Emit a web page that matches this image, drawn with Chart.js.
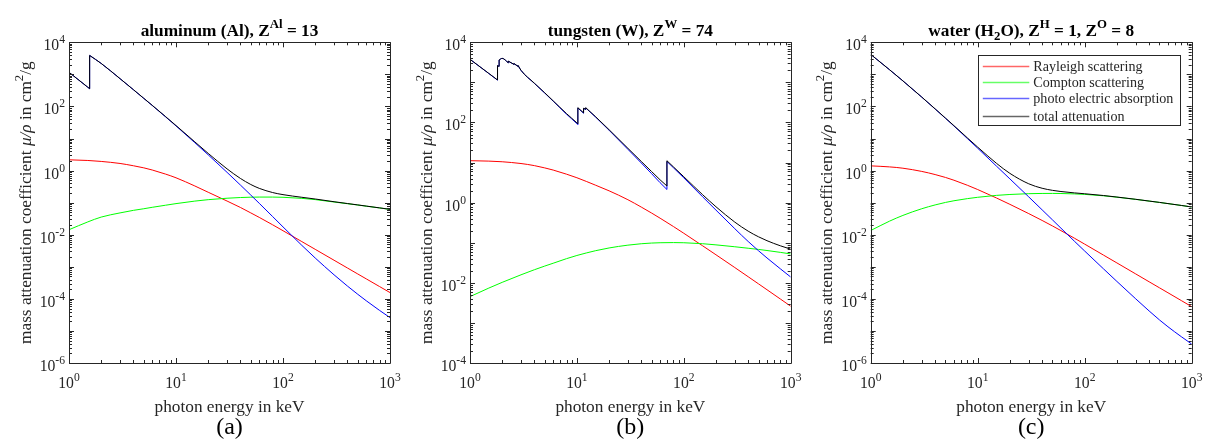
<!DOCTYPE html>
<html><head><meta charset="utf-8">
<script src="https://cdn.jsdelivr.net/npm/chart.js@4.4.0/dist/chart.umd.min.js"></script>
<style>
html,body{margin:0;padding:0;background:#fff;width:1208px;height:441px;overflow:hidden}
canvas{position:absolute;top:0}
</style></head><body>
<canvas id="ca" width="420" height="441" style="left:0px"></canvas>
<canvas id="cb" width="420" height="441" style="left:400px"></canvas>
<canvas id="cc" width="408" height="441" style="left:800px"></canvas>
<script>
// ---------- data (photon energy in keV, mass attenuation in cm^2/g) ----------
const E = [1,1.5,2,3,4,5,6,8,10,15,20,30,40,50,60,80,100,150,200,300,400,500,600,800,1000];

const alRayleigh = [2.168,2.065,1.928,1.667,1.413,1.216,1.042,0.776,0.596,0.331,0.211,0.1122,0.0708,0.0479,0.0347,0.0204,0.01334,0.0061,0.0035,0.0016,0.000918,0.000596,0.00042,0.000241,0.000157];
const alCompton = [0.01432,0.0251,0.0355,0.0479,0.0575,0.0646,0.0716,0.0832,0.0933,0.1117,0.1239,0.1374,0.1445,0.1479,0.1493,0.1493,0.1469,0.1361,0.1245,0.1047,0.0927,0.0843,0.0776,0.0684,0.0617];
const alEdgeE = [1,1.5,1.5596,1.5596,2,3,4,5,6,8,10,15,20,30,40,50,60,80,100,150,200,300,400,500,600,800,1000];
const alPhoto = [1161,395,355,3890,2188,733,332,178,107,47.2,24.7,7.41,3.10,0.881,0.354,0.1726,0.0953,0.0368,0.01754,0.004656,0.001879,0.000562,0.000251,0.0001387,0.0000873,0.0000435,0.000026];
const alTotal = [1163,397,357,3892,2190,735,333.5,179.3,108.1,48.06,25.39,7.85,3.435,1.131,0.569,0.368,0.279,0.2065,0.1778,0.1469,0.1299,0.1069,0.0939,0.085,0.0781,0.0687,0.0619];

const wRayleigh = [11.14,10.87,10.47,9.46,8.39,7.36,6.50,5.13,4.18,2.716,1.972,1.183,0.776,0.550,0.410,0.2535,0.1722,0.0839,0.0501,0.02404,0.01419,0.00942,0.00673,0.00395,0.00261];
const wCompton = [0.00453,0.0074,0.01028,0.01585,0.0212,0.02618,0.03083,0.0401,0.0481,0.0634,0.0741,0.0871,0.0944,0.0982,0.1,0.1009,0.1,0.0946,0.0885,0.0794,0.0729,0.0681,0.064,0.0575,0.0526];
const wEdgeE = [1,1.5,1.809,1.809,1.872,1.872,2,2.281,2.281,2.575,2.575,2.82,2.82,3,4,5,6,8,10,10.21,10.21,11.54,11.54,12.1,12.1,15,20,30,40,50,60,69.53,69.53,80,100,150,200,300,400,500,600,800,1000];
const wPhoto = [3759,1664,1139,2619,2499,3619,3969,3080,3380,2810,2940,2500,2620,1990,946,542,340,160.6,93.5,88.2,229.9,170.3,222.3,210.5,230.5,135.3,64,21.4,9.77,5.27,3.15,2.13,10.63,7.42,4.16,1.40,0.651,0.224,0.1075,0.0631,0.0417,0.0224,0.01396];
const wTotal = [3770,1675,1150,2630,2510,3630,3980,3090,3390,2820,2950,2510,2630,2000,955,550,347,166,97.7,92.3,234,174,226,214,234,138,66,22.7,10.67,5.96,3.71,2.6,11.1,7.8,4.43,1.579,0.79,0.327,0.1946,0.1406,0.1124,0.0839,0.0692];

const h2oRayleigh = [1.403,1.303,1.186,0.942,0.752,0.611,0.5,0.349,0.2564,0.1396,0.0885,0.0455,0.02786,0.01875,0.01343,0.00782,0.00509,0.00231,0.00132,0.000598,0.000341,0.000221,0.000155,0.0000883,0.0000571];
const h2oCompton = [0.01352,0.0265,0.04,0.0646,0.0849,0.1016,0.1146,0.1334,0.1469,0.1687,0.1799,0.1905,0.1936,0.1941,0.1928,0.1875,0.1811,0.1637,0.1479,0.1265,0.1117,0.1016,0.0933,0.0817,0.0733];
const h2oPhoto = [4200,1395,625,195,83.3,42.6,24.5,10.0,4.98,1.371,0.55,0.151,0.0597,0.029,0.016,0.0063,0.0031,0.00086,0.000349,0.0001,0.000042,0.000022,0.0000135,0.0000066,0.0000039];
const h2oTotal = [4201.4,1396.3,626.2,196.0,84.14,43.31,25.11,10.48,5.383,1.679,0.818,0.387,0.2812,0.2419,0.2222,0.2016,0.1893,0.1669,0.1496,0.1272,0.1121,0.1018,0.0935,0.0818,0.0734];

const xTickExps = [0,1,2,3];
const yTickExpsAC = [-6,-4,-2,0,2,4];
const yTickExpsB = [-4,-2,0,2,4];
const seriesNames = ['Rayleigh scattering','Compton scattering','photo electric absorption','total attenuation'];
const seriesColors = ['#ff0000','#00ff00','#0000ff','#000000'];
const xLabel = 'photon energy in keV';

// ---------- drawing helpers ----------
const FONT = "'Liberation Serif','Times New Roman',Times,serif";
const AX = '#262626';
function segFont(kind, size, bold){
  const s = (kind==='sup'||kind==='sub') ? size*0.74 : size;
  return (kind==='i'?'italic ':'') + (bold?'bold ':'') + s.toFixed(2) + 'px ' + FONT;
}
function richWidth(ctx, segs, size, bold){
  let w=0; for(const [t,k] of segs){ctx.font=segFont(k,size,bold); w+=ctx.measureText(t).width;} return w;
}
function drawRich(ctx, segs, x, y, size, o){
  o=o||{};
  const w=richWidth(ctx,segs,size,o.bold);
  let cx = o.align==='center' ? x-w/2 : (o.align==='right' ? x-w : x);
  ctx.fillStyle=o.color||AX; ctx.textAlign='left'; ctx.textBaseline='alphabetic';
  for(const [t,k] of segs){
    ctx.font=segFont(k,size,o.bold);
    const dy = k==='sup' ? -size*0.45 : (k==='sub' ? size*0.25 : 0);
    ctx.fillText(t,cx,y+dy);
    cx+=ctx.measureText(t).width;
  }
}
function logTicks(min,max){
  const out=[];
  for(let d=Math.floor(Math.log10(min)); d<=Math.ceil(Math.log10(max)); d++){
    for(let m=1;m<=9;m++){const v=m*Math.pow(10,d); if(v>=min*0.999&&v<=max*1.001) out.push({v, major:m===1});}
  }
  return out;
}
const yLabelSegs = [['mass attenuation coefficient ',''],['\u03bc/\u03c1','i'],[' in cm',''],['2','sup'],['/g','']];

function makePlugin(p){
  return {
    id:'frame'+p.id,
    afterDraw(chart){
      const ctx=chart.ctx, a=chart.chartArea, xs=chart.scales.x, ys=chart.scales.y;
      const L=a.left, R=a.right, T=a.top, B=a.bottom;
      ctx.save();
      ctx.strokeStyle=AX; ctx.lineWidth=1;
      ctx.beginPath();
      ctx.rect(Math.round(L)+0.5, Math.round(T)+0.5, Math.round(R)-Math.round(L), Math.round(B)-Math.round(T));
      ctx.stroke();
      ctx.beginPath();
      for(const t of logTicks(1,1000)){
        const px=Math.round(xs.getPixelForValue(t.v))+0.5, len=t.major?5:3;
        ctx.moveTo(px,B); ctx.lineTo(px,B-len);
        ctx.moveTo(px,T); ctx.lineTo(px,T+len);
      }
      for(const t of logTicks(p.yMin,p.yMax)){
        const py=Math.round(ys.getPixelForValue(t.v))+0.5, len=t.major?5:3;
        ctx.moveTo(L,py); ctx.lineTo(L+len,py);
        ctx.moveTo(R,py); ctx.lineTo(R-len,py);
      }
      ctx.stroke();
      for(const e of xTickExps){
        const px=xs.getPixelForValue(Math.pow(10,e));
        drawRich(ctx,[['10',''],[String(e),'sup']],px,B+25,15.7,{align:'center'});
      }
      for(const e of p.yTicks){
        const py=ys.getPixelForValue(Math.pow(10,e));
        drawRich(ctx,[['10',''],[String(e),'sup']],L-4,py+8,15.7,{align:'right'});
      }
      const cxm=(L+R)/2;
      drawRich(ctx,p.title,cxm,36,17.3,{align:'center',bold:true,color:'#000'});
      drawRich(ctx,[[xLabel,'']],cxm,411.5,17.3,{align:'center'});
      drawRich(ctx,[[p.letter,'']],cxm,434,24,{align:'center',color:'#000'});
      ctx.save();
      ctx.translate(L-38.5,(T+B)/2);
      ctx.rotate(-Math.PI/2);
      drawRich(ctx,yLabelSegs,0,0,17.3,{align:'center'});
      ctx.restore();
      if(p.legend){
        const bl=R-213.4, bt=T+12.7, bw=201.7, bh=70;
        ctx.fillStyle='#fff'; ctx.fillRect(bl,bt,bw,bh);
        ctx.strokeStyle=AX; ctx.lineWidth=1;
        ctx.strokeRect(Math.round(bl)+0.5,Math.round(bt)+0.5,Math.round(bw),Math.round(bh));
        const rows=[10.7,27.3,43.3,60.7];
        seriesNames.forEach((n,i)=>{
          const ry=bt+rows[i];
          ctx.save();
          ctx.globalAlpha=0.6; ctx.strokeStyle=seriesColors[i]; ctx.lineWidth=1.6;
          ctx.beginPath(); ctx.moveTo(bl+4.5,Math.round(ry)+0.5); ctx.lineTo(bl+51,Math.round(ry)+0.5); ctx.stroke();
          ctx.restore();
          drawRich(ctx,[[n,'']],bl+55,ry+4.8,14.1,{align:'left'});
        });
      }
      ctx.restore();
    }
  };
}

// split a series at absorption edges (repeated energies) into smooth runs + vertical jumps
function seriesDatasets(label,color,xs,ys,order){
  const out=[]; let cur=[{x:xs[0],y:ys[0]}];
  const push=(pts,smooth)=>out.push({label, data:pts, showLine:true, borderColor:color, backgroundColor:color,
    borderWidth:1, pointRadius:0, pointHoverRadius:0, tension: smooth?0.4:0,
    cubicInterpolationMode: smooth?'monotone':'default', order});
  for(let i=1;i<xs.length;i++){
    if(xs[i]===xs[i-1]){
      push(cur,true);
      push([{x:xs[i-1],y:ys[i-1]},{x:xs[i],y:ys[i]}],false);
      cur=[{x:xs[i],y:ys[i]}];
    } else cur.push({x:xs[i],y:ys[i]});
  }
  push(cur,true);
  return out;
}
function allSets(rx,ry,cx,cy,px,py,tx,ty){
  return [].concat(
    seriesDatasets(seriesNames[3],seriesColors[3],tx,ty,0),
    seriesDatasets(seriesNames[2],seriesColors[2],px,py,1),
    seriesDatasets(seriesNames[1],seriesColors[1],cx,cy,2),
    seriesDatasets(seriesNames[0],seriesColors[0],rx,ry,3));
}

const panels = [
  {id:'a', canvas:'ca', title:[['aluminum (Al), Z',''],['Al','sup'],[' = 13','']], letter:'(a)', yMin:1e-6, yMax:1e4, yTicks:yTickExpsAC, leftW:69, right:30, legend:false,
   data:allSets(E,alRayleigh,E,alCompton,alEdgeE,alPhoto,alEdgeE,alTotal)},
  {id:'b', canvas:'cb', title:[['tungsten (W), Z',''],['W','sup'],[' = 74','']], letter:'(b)', yMin:1e-4, yMax:1e4, yTicks:yTickExpsB, leftW:70, right:29.3, legend:false,
   data:allSets(E,wRayleigh,E,wCompton,wEdgeE,wPhoto,wEdgeE,wTotal)},
  {id:'c', canvas:'cc', title:[['water (H',''],['2','sub'],['O), Z',''],['H','sup'],[' = 1, Z',''],['O','sup'],[' = 8','']], letter:'(c)', yMin:1e-6, yMax:1e4, yTicks:yTickExpsAC, leftW:70.7, right:16.3, legend:true,
   data:allSets(E,h2oRayleigh,E,h2oCompton,E,h2oPhoto,E,h2oTotal)}
];

for(const p of panels){
  new Chart(document.getElementById(p.canvas).getContext('2d'),{
    type:'scatter',
    data:{datasets:p.data},
    options:{
      responsive:false, animation:false, devicePixelRatio:1, events:[],
      layout:{padding:{left:0,right:p.right,top:42.3,bottom:0}},
      plugins:{legend:{display:false},tooltip:{enabled:false},title:{display:false}},
      scales:{
        x:{type:'logarithmic',min:1,max:1000,grid:{display:false},border:{display:false},ticks:{display:false},
           afterFit(s){s.height=78;}},
        y:{type:'logarithmic',min:p.yMin,max:p.yMax,grid:{display:false},border:{display:false},ticks:{display:false},
           afterFit(s){s.width=p.leftW;}}
      }
    },
    plugins:[makePlugin(p)]
  });
}
</script>
</body></html>
